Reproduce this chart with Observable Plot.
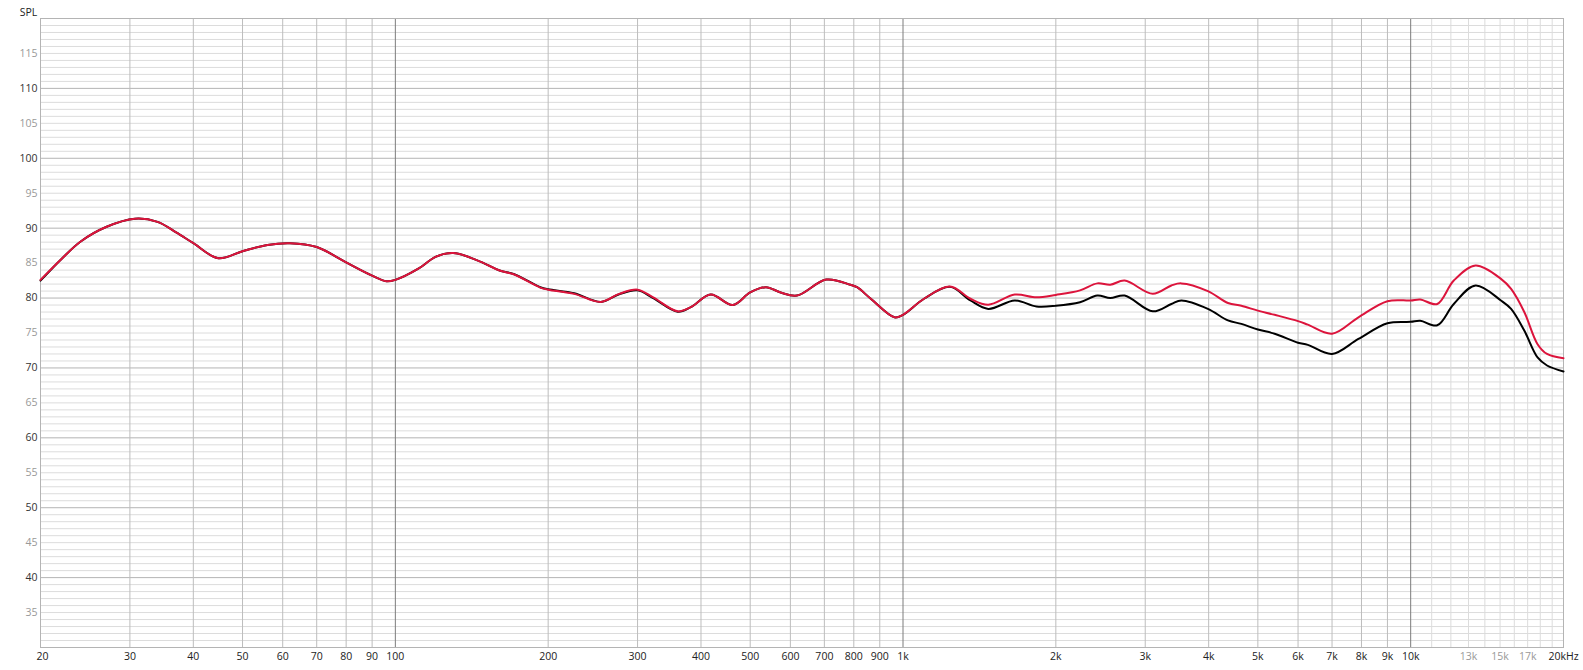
<!DOCTYPE html>
<html><head><meta charset="utf-8">
<script src="https://cdn.jsdelivr.net/npm/d3@7"></script>
<script src="https://cdn.jsdelivr.net/npm/@observablehq/plot@0.6"></script>
<style>body{margin:0;background:#fff} svg{display:block}</style>
</head><body><div id="chart"></div>
<script>
// Frequency points (Hz)
const freq = [20, 22, 24, 27, 30.7, 34, 37, 40, 44.8, 50, 56, 62, 70, 80, 90, 96, 100, 111, 120, 130, 145, 161, 171, 193, 200, 225, 254, 276, 300, 322, 360, 382, 418, 462, 500, 537, 574, 618, 706, 788, 812, 864, 962, 1000, 1100, 1238, 1358, 1472, 1660, 1832, 2000, 2232, 2414, 2560, 2732, 3104, 3378, 3534, 3986, 4366, 4640, 5000, 5396, 6000, 6272, 7000, 7890, 9000, 10000, 10440, 11280, 12160, 13420, 15060, 15770, 16740, 17780, 18560, 20000];
// Red curve SPL (dB)
const redSPL = [82.6, 85.6, 88.1, 90.2, 91.35, 90.9, 89.4, 87.85, 85.7, 86.7, 87.6, 87.85, 87.3, 85.1, 83.2, 82.4, 82.6, 84.2, 85.9, 86.45, 85.4, 83.9, 83.4, 81.5, 81.2, 80.6, 79.45, 80.6, 81.2, 80.1, 78.1, 78.7, 80.5, 79.0, 80.8, 81.55, 80.8, 80.35, 82.65, 81.9, 81.55, 79.9, 77.25, 77.6, 79.9, 81.65, 79.9, 79.05, 80.5, 80.1, 80.45, 81.1, 82.1, 81.9, 82.5, 80.6, 81.8, 82.1, 81.0, 79.3, 78.9, 78.2, 77.6, 76.7, 76.2, 74.9, 77.25, 79.55, 79.65, 79.8, 79.15, 82.5, 84.65, 82.75, 81.3, 78.0, 73.4, 72.0, 71.4];
// Black curve SPL (dB)
const blackSPL = [82.5, 85.6, 88.1, 90.2, 91.35, 90.9, 89.4, 87.85, 85.7, 86.7, 87.6, 87.85, 87.3, 85.1, 83.2, 82.4, 82.6, 84.2, 85.9, 86.45, 85.4, 83.9, 83.45, 81.55, 81.25, 80.7, 79.45, 80.55, 81.1, 80.0, 78.05, 78.7, 80.5, 79.0, 80.8, 81.55, 80.8, 80.35, 82.65, 81.9, 81.55, 79.9, 77.25, 77.6, 79.9, 81.6, 79.65, 78.45, 79.65, 78.8, 78.9, 79.4, 80.35, 80.0, 80.35, 78.1, 79.15, 79.65, 78.45, 76.8, 76.3, 75.5, 74.9, 73.6, 73.3, 72.0, 74.15, 76.4, 76.6, 76.75, 76.1, 79.15, 81.8, 79.65, 78.45, 75.35, 71.5, 70.35, 69.5];

// Tick labels
const yTicksDark = [40, 50, 60, 70, 80, 90, 100, 110];
const yTicksGrey = [35, 45, 55, 65, 75, 85, 95, 105, 115];
const xTicksDark = [30, 40, 50, 60, 70, 80, 90, 100, 200, 300, 400, 500, 600, 700, 800, 900, 1000, 2000, 3000, 4000, 5000, 6000, 7000, 8000, 9000, 10000, 20000];
const xTicksGrey = [13000, 15000, 17000];
const xTickFirst = [20];
// Grid lines
const xGridDecade = [100, 1000, 10000];
const xGridMain = [30, 40, 50, 60, 70, 80, 90, 200, 300, 400, 500, 600, 700, 800, 900, 2000, 3000, 4000, 5000, 6000, 7000, 8000, 9000];
const xGridLight = [11000, 12000, 13000, 14000, 15000, 16000, 17000, 18000, 19000];
const yGridMajor = [40, 50, 60, 70, 80, 90, 100, 110];
const yGridMinor = d3.range(31, 120).filter(v => v % 10 !== 0);

const pts = freq.map((f, i) => ({f, red: redSPL[i], black: blackSPL[i]}));
const fmt = f => f === 20000 ? "20kHz" : (f >= 1000 ? (f / 1000) + "k" : String(f));

const chart = Plot.plot({
  width: 1583,
  height: 670,
  marginLeft: 40,
  marginRight: 20,
  marginTop: 18,
  marginBottom: 23,
  style: {fontFamily: "'Open Sans', sans-serif", fontSize: "10.5px", background: "#fff"},
  x: {type: "log", domain: [20, 20000], axis: null},
  y: {domain: [30, 120], axis: null},
  marks: [
    Plot.ruleY(yGridMinor, {stroke: "#dcdcdc", strokeWidth: 1}),
    Plot.ruleY(yGridMajor, {stroke: "#b4b4b4", strokeWidth: 1}),
    Plot.ruleX(xGridLight, {stroke: "#dcdcdc", strokeWidth: 1}),
    Plot.ruleX(xGridMain, {stroke: "#bdbdbd", strokeWidth: 1}),
    Plot.ruleX(xGridDecade, {stroke: "#7c7c7c", strokeWidth: 1}),
    Plot.frame({stroke: "#b4b4b4"}),
    Plot.text(yTicksDark, {y: d => d, frameAnchor: "left", dx: -3, textAnchor: "end", fill: "#333", text: d => String(d)}),
    Plot.text(yTicksGrey, {y: d => d, frameAnchor: "left", dx: -3, textAnchor: "end", fill: "#999", text: d => String(d)}),
    Plot.text(xTicksDark, {x: d => d, frameAnchor: "bottom", dy: 12, fill: "#222", text: fmt}),
    Plot.text(xTicksGrey, {x: d => d, frameAnchor: "bottom", dy: 12, fill: "#999", text: fmt}),
    Plot.text(xTickFirst, {x: d => d, frameAnchor: "bottom", dy: 12, dx: -4, textAnchor: "start", fill: "#222", text: fmt}),
    Plot.text(["SPL"], {frameAnchor: "top-left", dx: -12, dy: -10, fill: "#222", textAnchor: "middle"}),
    Plot.line(pts, {x: "f", y: "black", stroke: "#000", strokeWidth: 2, curve: "catmull-rom"}),
    Plot.line(pts, {x: "f", y: "red", stroke: "#dc143c", strokeWidth: 2, curve: "catmull-rom"})
  ]
});
document.getElementById("chart").appendChild(chart);
</script>
</body></html>
